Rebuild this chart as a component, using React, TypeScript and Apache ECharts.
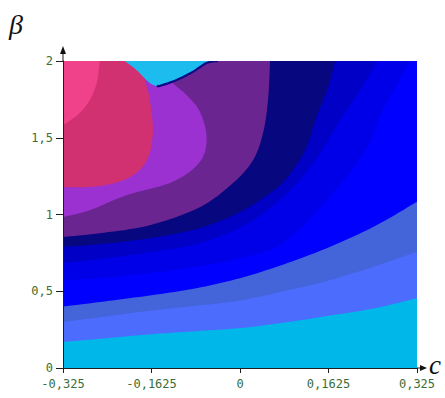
import React, { useEffect, useRef } from "react";
import * as echarts from "echarts";

const C_MIN = -0.325;
const C_MAX = 0.325;
const B_MIN = 0;
const B_MAX = 2;
const X_INTERVAL = 0.1625;
const Y_INTERVAL = 0.5;
const xTickLabels = ["-0,325", "-0,1625", "0", "0,1625", "0,325"];
const yTickLabels = ["0", "0,5", "1", "1,5", "2"];

// Contour boundaries [c, beta], each listed from the left edge toward the right or top edge.
const baseEdge = [[-0.325, 0], [0.325, 0]];
const edge1 = [[-0.325, 0.17], [-0.2575, 0.19], [-0.1625, 0.22], [-0.08, 0.24], [0, 0.26], [0.08, 0.295], [0.1625, 0.34], [0.248, 0.39], [0.325, 0.455]];
const edge2 = [[-0.325, 0.3], [-0.2575, 0.33], [-0.1625, 0.375], [-0.08, 0.405], [0, 0.44], [0.08, 0.5], [0.1625, 0.57], [0.248, 0.663], [0.325, 0.757]];
const edge3 = [[-0.325, 0.4], [-0.2575, 0.43], [-0.1625, 0.474], [-0.08, 0.52], [0, 0.585], [0.08, 0.675], [0.1656, 0.79], [0.248, 0.925], [0.325, 1.083]];
const edge4 = [[-0.325, 0.572], [-0.2575, 0.585], [-0.1655, 0.618], [-0.0736, 0.663], [0, 0.715], [0.0791, 0.813], [0.171, 1.139], [0.2335, 1.433], [0.2575, 1.648], [0.2851, 1.824], [0.3127, 2]];
const edge5 = [[-0.325, 0.683], [-0.2575, 0.709], [-0.1655, 0.754], [-0.0736, 0.813], [0.0184, 0.95], [0.092, 1.158], [0.138, 1.354], [0.184, 1.615], [0.2207, 1.811], [0.252, 2]];
const edge6 = [[-0.325, 0.789], [-0.2575, 0.807], [-0.1655, 0.846], [-0.0736, 0.911], [0, 1.015], [0.0497, 1.126], [0.0828, 1.224], [0.1196, 1.42], [0.1416, 1.648], [0.16, 1.811], [0.1748, 2]];
const edge7 = [[-0.325, 0.854], [-0.2575, 0.878], [-0.1655, 0.93], [-0.0736, 1.048], [-0.0129, 1.205], [0.0239, 1.354], [0.0423, 1.531], [0.0515, 1.746], [0.0552, 2]];
const edge8 = [[-0.325, 0.983], [-0.2759, 1.028], [-0.2084, 1.126], [-0.1235, 1.213], [-0.0736, 1.343], [-0.0613, 1.498], [-0.0736, 1.669], [-0.098, 1.778], [-0.1287, 1.876], [-0.1471, 2]];
const edge9 = [[-0.325, 1.178], [-0.2575, 1.185], [-0.2023, 1.243], [-0.171, 1.354], [-0.16, 1.531], [-0.1655, 1.746], [-0.1747, 1.876], [-0.1839, 2]];
const edge10 = [[-0.325, 1.583], [-0.3164, 1.602], [-0.2943, 1.661], [-0.2759, 1.746], [-0.263, 1.857], [-0.2575, 2]];
const blobOutline = [[-0.2115, 2], [-0.19, 1.941], [-0.1655, 1.857], [-0.1471, 1.838], [-0.1164, 1.876], [-0.0864, 1.93], [-0.0612, 1.987], [-0.0405, 2]];
const blobRim = [[-0.152, 1.84], [-0.1471, 1.838], [-0.1164, 1.876], [-0.0864, 1.93], [-0.0612, 1.987], [-0.0405, 2]];

const bandEdges = [baseEdge, edge1, edge2, edge3, edge4, edge5, edge6, edge7, edge8, edge9, edge10];
const bandColors = [
  "#00b7ea",
  "#4c6cfd",
  "#4464da",
  "#0000ff",
  "#0000e8",
  "#0000c6",
  "#07077f",
  "#6a2590",
  "#9a31d0",
  "#d23171",
  "#f0418b",
];
const blobColor = "#1cbdee";
const blobRimColor = "#0c0c86";

// Catmull-Rom smoothing of a pixel polyline (drawing only)
function smoothPx(pts: number[][], steps = 10): number[][] {
  if (pts.length < 3) return pts.slice();
  const out: number[][] = [];
  const n = pts.length;
  for (let i = 0; i < n - 1; i++) {
    const p0 = pts[Math.max(0, i - 1)];
    const p1 = pts[i];
    const p2 = pts[i + 1];
    const p3 = pts[Math.min(n - 1, i + 2)];
    for (let s = 0; s < steps; s++) {
      const t = s / steps;
      const t2 = t * t;
      const t3 = t2 * t;
      const f = (a: number, b: number, c: number, d: number) =>
        0.5 * (2 * b + (-a + c) * t + (2 * a - 5 * b + 4 * c - d) * t2 + (-a + 3 * b - 3 * c + d) * t3);
      out.push([f(p0[0], p1[0], p2[0], p3[0]), f(p0[1], p1[1], p2[1], p3[1])]);
    }
  }
  out.push(pts[n - 1]);
  return out;
}

export default function App() {
  const ref = useRef<HTMLDivElement>(null);
  useEffect(() => {
    if (!ref.current) return;
    const chart = echarts.init(ref.current, null, { renderer: "svg" });
    const labelStyle = {
      color: "#3b6d35",
      fontFamily: "'DejaVu Sans Mono', monospace",
      fontSize: 12,
    };
    const axisLineStyle = { color: "#1e1e1e", width: 1 };
    chart.setOption({
      animation: false,
      grid: { left: 63, right: 28, top: 61, bottom: 30 },
      xAxis: {
        type: "value",
        min: C_MIN,
        max: C_MAX,
        interval: X_INTERVAL,
        axisLine: { show: true, onZero: false, lineStyle: axisLineStyle },
        axisTick: { show: true, length: 5, lineStyle: axisLineStyle },
        axisLabel: {
          ...labelStyle,
          margin: 10,
          formatter: (_v: number, i: number) => xTickLabels[i] ?? "",
        },
        splitLine: { show: false },
        z: 10,
      },
      yAxis: {
        type: "value",
        min: B_MIN,
        max: B_MAX,
        interval: Y_INTERVAL,
        axisLine: { show: true, onZero: false, lineStyle: axisLineStyle },
        axisTick: { show: true, length: 7, lineStyle: axisLineStyle },
        axisLabel: {
          ...labelStyle,
          margin: 10,
          formatter: (_v: number, i: number) => yTickLabels[i] ?? "",
        },
        splitLine: { show: false },
        z: 10,
      },
      series: [
        {
          type: "custom",
          coordinateSystem: "cartesian2d",
          silent: true,
          clip: true,
          data: bandEdges.map((e) => e[0]),
          renderItem: (params: any, api: any) => {
            const edge = bandEdges[params.dataIndex];
            const px = smoothPx(edge.map((p) => api.coord(p)));
            const last = edge[edge.length - 1];
            if (last[0] >= C_MAX - 1e-9 && last[1] < B_MAX) px.push(api.coord([C_MAX, B_MAX]));
            px.push(api.coord([C_MIN, B_MAX]));
            return {
              type: "polygon",
              shape: { points: px },
              style: { fill: bandColors[params.dataIndex] },
            };
          },
          z: 2,
        },
        {
          type: "custom",
          coordinateSystem: "cartesian2d",
          silent: true,
          clip: true,
          data: [blobOutline[0]],
          renderItem: (_params: any, api: any) => ({
            type: "group",
            children: [
              {
                type: "polygon",
                shape: { points: smoothPx(blobOutline.map((p) => api.coord(p))) },
                style: { fill: blobColor },
              },
              {
                type: "polyline",
                shape: { points: smoothPx(blobRim.map((p) => api.coord(p))) },
                style: { stroke: blobRimColor, lineWidth: 2.2, fill: "none" },
              },
            ],
          }),
          z: 3,
        },
      ],
      graphic: [
        {
          type: "text",
          left: 9,
          top: 10,
          style: {
            text: "β",
            font: "italic 28px 'Liberation Serif', 'DejaVu Serif', serif",
            fill: "#111",
          },
        },
        {
          type: "text",
          left: 429,
          top: 351,
          style: {
            text: "c",
            font: "italic 27px 'Liberation Serif', 'DejaVu Serif', serif",
            fill: "#111",
          },
        },
        {
          type: "line",
          shape: { x1: 417, y1: 368, x2: 422, y2: 368 },
          style: { stroke: "#1e1e1e", lineWidth: 1 },
        },
        {
          type: "polygon",
          shape: { points: [[420, 365], [427, 368], [420, 371]] },
          style: { fill: "#111" },
        },
        {
          type: "line",
          shape: { x1: 63, y1: 61, x2: 63, y2: 52 },
          style: { stroke: "#1e1e1e", lineWidth: 1 },
        },
        {
          type: "polygon",
          shape: { points: [[60, 54], [63, 46], [66, 54]] },
          style: { fill: "#111" },
        },
      ],
    });
    return () => chart.dispose();
  }, []);
  return (
    <div
      ref={ref}
      style={{ position: "fixed", left: 0, top: 0, width: 445, height: 398, background: "#fff" }}
    />
  );
}
